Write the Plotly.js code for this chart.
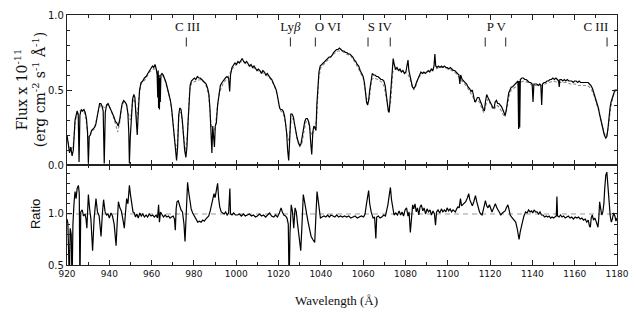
<!DOCTYPE html>
<html>
<head>
<meta charset="utf-8">
<script src="https://cdn.plot.ly/plotly-3.0.1.min.js"></script>
<style>html,body{margin:0;padding:0;background:#fff;}#chart{width:636px;height:316px;}</style>
</head>
<body>
<div id="chart"></div>
<script>
// Observed spectrum (flux in 1e-11 erg cm^-2 s^-1 A^-1)
const obsWave = [920,920.6,921.2,921.8,922.4,923.0,923.4,923.8,924.3,924.8,925.3,925.7,926.1,926.7,927.3,928.0,928.6,929.2,929.7,930.1,930.5,931.0,931.6,932.3,933.0,933.6,934.2,934.8,935.4,936.0,936.6,937.1,937.6,938.1,938.7,939.4,940.1,940.8,941.5,942.2,942.9,943.6,944.2,944.9,945.5,946.1,946.8,947.5,948.2,948.8,949.2,949.5,949.9,950.4,951.0,951.6,952.1,952.6,953.2,953.7,954.3,955.0,955.8,956.6,957.4,958.2,959.0,959.7,960.4,961.0,961.6,962.2,962.6,962.9,963.1,963.3,963.5,963.7,963.9,964.1,964.4,964.9,965.5,966.1,966.8,967.5,968.2,968.9,969.5,970.1,970.7,971.3,971.8,972.3,972.8,973.3,973.9,974.5,975.0,975.6,976.2,976.7,977.2,977.7,978.2,978.8,979.5,980.2,980.9,981.6,982.3,983.0,983.7,984.4,985.1,985.8,986.5,987.1,987.6,988.1,988.5,988.9,989.3,989.7,990.1,990.6,991.2,991.8,992.5,993.3,994.1,994.9,995.6,996.4,996.9,997.3,998.0,998.7,999.4,1000.1,1000.8,1001.5,1002.2,1002.8,1003.5,1004.2,1004.9,1005.6,1006.3,1007.0,1007.7,1008.4,1009.1,1009.8,1010.5,1011.2,1011.9,1012.6,1013.3,1014.0,1014.7,1015.4,1016.1,1016.8,1017.5,1018.2,1018.9,1019.5,1020.0,1020.5,1021.0,1021.6,1022.2,1022.8,1023.3,1023.8,1024.3,1024.8,1025.3,1025.8,1026.4,1027.0,1027.6,1028.2,1028.8,1029.4,1030.0,1030.6,1031.2,1031.8,1032.4,1033.0,1033.6,1034.2,1034.7,1035.2,1035.7,1036.2,1036.7,1037.2,1037.7,1038.1,1038.6,1039.1,1039.7,1040.4,1041.1,1041.8,1042.5,1043.2,1043.9,1044.6,1045.3,1046.0,1046.7,1047.4,1048.1,1048.8,1049.5,1050.2,1050.9,1051.6,1052.3,1053.0,1053.7,1054.4,1055.1,1055.8,1056.5,1057.2,1057.9,1058.6,1059.3,1060.0,1060.6,1061.1,1061.6,1062.1,1062.6,1063.1,1063.7,1064.3,1064.9,1065.6,1066.3,1067.0,1067.7,1068.4,1069.1,1069.8,1070.4,1070.9,1071.4,1071.9,1072.3,1072.8,1073.3,1073.8,1074.2,1074.7,1075.3,1076.0,1076.7,1077.4,1078.1,1078.8,1079.5,1080.2,1080.8,1081.2,1081.6,1082.1,1082.7,1083.3,1083.9,1084.5,1085.2,1085.9,1086.6,1087.3,1088.0,1088.7,1089.4,1090.1,1090.8,1091.5,1092.2,1092.9,1093.5,1093.9,1094.3,1094.9,1095.6,1096.3,1097.0,1097.7,1098.4,1099.1,1099.8,1100.5,1101.2,1101.9,1102.6,1103.3,1104.0,1104.7,1105.3,1105.7,1106.1,1106.8,1107.5,1108.2,1108.9,1109.6,1110.3,1111.0,1111.6,1112.2,1112.8,1113.4,1114.0,1114.7,1115.4,1116.1,1116.8,1117.3,1117.8,1118.4,1119.0,1119.6,1120.2,1120.8,1121.4,1121.9,1122.4,1123.0,1123.6,1124.2,1124.8,1125.4,1126.0,1126.6,1127.1,1127.6,1128.2,1128.8,1129.4,1130.0,1130.6,1131.3,1132.0,1132.7,1133.2,1133.5,1133.8,1134.0,1134.3,1135.0,1135.7,1136.4,1137.1,1137.8,1138.5,1139.2,1139.9,1140.3,1140.7,1141.4,1142.1,1142.8,1143.5,1144.0,1144.4,1144.8,1145.5,1146.2,1146.9,1147.6,1148.3,1149.0,1149.7,1150.4,1151.1,1151.8,1152.4,1152.7,1153.0,1153.7,1154.4,1155.1,1155.8,1156.5,1157.2,1157.9,1158.6,1159.3,1160.0,1160.7,1161.4,1162.1,1162.8,1163.5,1164.2,1164.9,1165.6,1166.3,1167.0,1167.7,1168.4,1169.1,1169.8,1170.5,1171.2,1171.9,1172.6,1173.3,1174.0,1174.7,1175.2,1175.7,1176.2,1176.7,1177.2,1177.8,1178.4,1179.0,1179.6,1180.0];
const obsFlux = [0.20,0.14,0.08,0.12,0.06,0.10,0.22,0.30,0.33,0.36,0.34,0.02,0.33,0.37,0.36,0.37,0.35,0.31,0.22,0.01,0.19,0.20,0.23,0.24,0.25,0.27,0.32,0.38,0.41,0.41,0.39,0.36,0.01,0.35,0.40,0.41,0.39,0.37,0.35,0.32,0.29,0.28,0.26,0.30,0.36,0.41,0.43,0.42,0.40,0.34,0.22,0.01,0.18,0.35,0.44,0.47,0.45,0.33,0.20,0.35,0.50,0.55,0.56,0.58,0.59,0.61,0.63,0.64,0.66,0.65,0.67,0.64,0.60,0.45,0.63,0.38,0.60,0.37,0.58,0.42,0.60,0.61,0.60,0.58,0.55,0.51,0.47,0.43,0.37,0.29,0.20,0.10,0.03,0.12,0.33,0.38,0.37,0.30,0.20,0.10,0.05,0.12,0.28,0.42,0.53,0.56,0.57,0.58,0.57,0.59,0.58,0.58,0.57,0.56,0.55,0.54,0.51,0.47,0.37,0.20,0.08,0.26,0.20,0.12,0.26,0.28,0.40,0.48,0.53,0.55,0.57,0.58,0.59,0.58,0.49,0.60,0.65,0.67,0.68,0.67,0.69,0.68,0.70,0.71,0.69,0.68,0.69,0.67,0.66,0.67,0.65,0.66,0.64,0.63,0.64,0.63,0.61,0.63,0.62,0.60,0.61,0.59,0.58,0.57,0.55,0.53,0.50,0.46,0.42,0.38,0.37,0.37,0.36,0.33,0.28,0.22,0.10,0.03,0.18,0.34,0.34,0.32,0.27,0.22,0.18,0.15,0.13,0.14,0.19,0.25,0.29,0.31,0.31,0.29,0.26,0.15,0.07,0.22,0.26,0.25,0.23,0.40,0.53,0.62,0.66,0.67,0.68,0.69,0.70,0.71,0.72,0.72,0.73,0.75,0.76,0.77,0.77,0.78,0.77,0.76,0.76,0.75,0.75,0.74,0.74,0.73,0.72,0.70,0.69,0.67,0.66,0.63,0.61,0.59,0.55,0.47,0.42,0.40,0.43,0.50,0.57,0.61,0.60,0.60,0.59,0.59,0.58,0.57,0.57,0.56,0.53,0.46,0.40,0.36,0.35,0.44,0.55,0.68,0.71,0.67,0.64,0.65,0.63,0.64,0.62,0.63,0.61,0.62,0.66,0.70,0.63,0.60,0.55,0.52,0.51,0.52,0.55,0.57,0.60,0.62,0.61,0.62,0.61,0.62,0.63,0.62,0.64,0.63,0.66,0.74,0.66,0.65,0.66,0.65,0.66,0.65,0.66,0.65,0.65,0.64,0.65,0.64,0.63,0.63,0.62,0.61,0.60,0.54,0.60,0.57,0.56,0.55,0.54,0.52,0.51,0.49,0.50,0.46,0.42,0.43,0.45,0.45,0.43,0.40,0.37,0.36,0.42,0.47,0.45,0.43,0.42,0.40,0.38,0.38,0.42,0.43,0.41,0.41,0.40,0.39,0.37,0.34,0.33,0.36,0.42,0.48,0.50,0.52,0.52,0.53,0.54,0.55,0.56,0.24,0.56,0.25,0.57,0.58,0.58,0.57,0.57,0.56,0.55,0.55,0.54,0.42,0.54,0.54,0.54,0.53,0.54,0.53,0.40,0.54,0.55,0.55,0.56,0.56,0.57,0.57,0.58,0.57,0.58,0.57,0.56,0.52,0.57,0.57,0.56,0.57,0.56,0.57,0.56,0.56,0.56,0.55,0.56,0.56,0.55,0.56,0.55,0.55,0.55,0.55,0.55,0.55,0.54,0.53,0.51,0.48,0.45,0.42,0.38,0.33,0.28,0.23,0.20,0.18,0.19,0.24,0.32,0.38,0.42,0.45,0.48,0.50,0.50,0.50];

// Model spectrum
const modelWave = [920,921,922,923,924,925,926,927,928,929,930,931,932,933,934,935,936,937,938,939,940,941,942,943,944,945,946,947,948,949,950,951,952,953,954,955,957,959,961,962,963,964,965,966,968,969,970,971,972,973,974,975,976,977,978,979,981,983,985,986,987,988,989,990,991,992,994,996,998,1000,1002,1004,1006,1008,1010,1012,1014,1016,1018,1019,1020,1021,1022,1023,1024,1025,1026,1027,1028,1029,1030,1031,1032,1033,1034,1035,1036,1037,1038,1039,1040,1042,1044,1046,1048,1050,1052,1054,1056,1058,1060,1061,1062,1063,1064,1065,1067,1069,1070,1071,1072,1073,1074,1075,1077,1079,1081,1082,1083,1084,1085,1086,1088,1090,1092,1094,1096,1098,1100,1102,1104,1106,1108,1110,1112,1113,1114,1115,1116,1117,1118,1119,1120,1121,1122,1123,1124,1125,1126,1127,1128,1129,1130,1132,1134,1136,1138,1140,1142,1144,1146,1148,1150,1152,1154,1156,1158,1160,1162,1164,1166,1167,1168,1169,1170,1171,1172,1173,1174,1175,1176,1177,1178,1179,1180];
const modelFlux = [0.19,0.12,0.10,0.14,0.30,0.35,0.36,0.36,0.36,0.30,0.18,0.20,0.23,0.24,0.30,0.37,0.40,0.39,0.38,0.40,0.39,0.36,0.32,0.27,0.22,0.29,0.40,0.42,0.41,0.34,0.30,0.42,0.44,0.30,0.45,0.54,0.57,0.62,0.64,0.64,0.60,0.59,0.60,0.58,0.48,0.42,0.30,0.15,0.10,0.35,0.35,0.22,0.08,0.22,0.50,0.55,0.56,0.57,0.55,0.52,0.46,0.28,0.22,0.24,0.38,0.48,0.55,0.58,0.64,0.67,0.69,0.68,0.66,0.65,0.63,0.62,0.60,0.58,0.53,0.49,0.42,0.36,0.35,0.30,0.20,0.16,0.30,0.31,0.24,0.16,0.12,0.14,0.22,0.29,0.29,0.22,0.20,0.24,0.30,0.58,0.65,0.68,0.71,0.74,0.76,0.76,0.74,0.73,0.69,0.64,0.58,0.50,0.41,0.45,0.57,0.58,0.57,0.55,0.52,0.44,0.36,0.42,0.62,0.64,0.63,0.62,0.61,0.58,0.53,0.50,0.53,0.58,0.61,0.62,0.63,0.64,0.65,0.65,0.64,0.63,0.61,0.57,0.54,0.50,0.45,0.42,0.43,0.42,0.38,0.35,0.40,0.44,0.41,0.38,0.37,0.40,0.39,0.37,0.34,0.32,0.38,0.46,0.50,0.52,0.55,0.56,0.55,0.53,0.53,0.53,0.54,0.55,0.56,0.55,0.55,0.55,0.54,0.54,0.53,0.53,0.53,0.52,0.50,0.47,0.43,0.38,0.32,0.26,0.21,0.19,0.26,0.38,0.45,0.49,0.50];

// Ratio observed / model
const ratioWave = [920.0,920.4,920.8,921.1,921.5,922.0,922.4,922.8,923.3,923.8,924.3,924.8,925.4,925.8,926.1,926.5,927.2,927.8,928.5,929.0,929.4,930.1,930.7,931.3,932.1,932.8,933.7,934.4,935.2,936.1,936.7,937.3,938.0,938.7,939.4,940.0,940.8,941.5,942.3,943.2,943.7,944.3,945.0,945.7,946.4,947.1,947.6,948.2,948.8,949.5,950.0,950.6,951.2,951.8,952.4,953.0,953.7,954.4,955.1,955.8,956.6,957.4,958.1,958.9,959.7,960.5,961.3,962.1,962.8,963.3,963.7,964.2,964.9,965.6,966.4,967.2,968.0,968.7,969.4,970.2,970.8,971.2,971.6,972.0,972.6,973.2,973.9,974.6,975.3,975.8,976.3,977.0,977.5,978.0,978.7,979.4,980.2,981.0,981.8,982.6,983.4,984.2,984.9,985.6,986.3,987.0,987.7,988.3,988.9,989.5,990.0,990.5,991.2,991.7,992.2,992.9,993.6,994.3,995.0,995.7,996.4,997.0,997.3,998.0,998.8,999.6,1000.6,1001.5,1002.4,1003.4,1004.3,1005.3,1006.2,1007.2,1008.1,1009.1,1010.0,1011.0,1012.0,1012.9,1013.9,1014.8,1015.8,1016.7,1017.7,1018.6,1019.5,1020.4,1021.2,1021.8,1022.5,1023.3,1024.0,1024.6,1025.0,1025.4,1026.0,1026.6,1027.2,1027.8,1028.4,1029.0,1029.6,1030.5,1031.1,1031.7,1032.3,1033.0,1033.8,1034.6,1035.4,1036.2,1037.1,1037.6,1038.2,1038.7,1039.2,1039.8,1040.6,1041.5,1042.4,1043.2,1044.0,1044.8,1045.7,1046.6,1047.5,1048.4,1049.3,1050.3,1051.2,1052.2,1053.2,1054.2,1055.2,1056.2,1057.2,1058.2,1059.2,1060.2,1060.9,1061.5,1062.2,1062.6,1063.1,1063.8,1064.7,1065.4,1066.0,1066.4,1067.2,1068.0,1068.8,1069.7,1070.5,1071.2,1071.7,1072.3,1072.9,1073.4,1073.9,1074.6,1075.4,1076.2,1077.0,1077.7,1078.4,1079.1,1079.8,1080.5,1081.2,1081.7,1082.3,1082.8,1083.4,1083.9,1084.5,1085.1,1085.7,1086.3,1086.9,1087.5,1088.2,1088.8,1089.5,1090.2,1090.9,1091.6,1092.3,1093.0,1093.7,1094.2,1094.7,1095.4,1096.2,1097.0,1097.7,1098.4,1099.1,1099.7,1100.4,1101.1,1101.8,1102.5,1103.2,1103.6,1104.2,1104.8,1105.4,1106.0,1106.5,1107.1,1107.8,1108.5,1109.3,1109.9,1110.4,1111.0,1111.6,1112.3,1113.1,1113.7,1114.3,1115.0,1115.6,1116.2,1116.8,1117.3,1117.8,1118.4,1119.0,1119.7,1120.3,1120.9,1121.5,1122.1,1122.5,1123.2,1123.8,1124.5,1125.1,1125.8,1126.4,1127.1,1127.7,1128.4,1128.9,1129.5,1130.2,1131.0,1131.6,1132.1,1132.8,1133.3,1133.7,1134.2,1134.7,1135.3,1136.0,1136.8,1137.5,1138.2,1138.9,1139.6,1140.2,1140.8,1141.5,1142.2,1142.9,1143.6,1144.3,1145.0,1145.8,1146.5,1147.2,1147.9,1148.6,1149.3,1150.0,1150.7,1151.3,1151.6,1151.9,1152.6,1153.3,1154.0,1154.8,1155.5,1156.3,1157.0,1157.8,1158.6,1159.4,1160.2,1161.0,1161.8,1162.6,1163.4,1164.2,1165.0,1165.7,1166.4,1167.0,1167.4,1167.8,1168.3,1168.9,1169.5,1170.1,1170.6,1171.0,1171.4,1171.8,1172.3,1172.8,1173.3,1173.8,1174.2,1174.7,1175.2,1175.6,1176.0,1176.3,1176.8,1177.3,1177.8,1178.4,1179.0,1179.5,1180.0];
const ratioVal = [0.95,0.91,0.60,0.30,0.86,0.80,0.30,0.90,1.10,1.22,1.15,1.25,1.28,1.20,0.30,1.02,1.04,0.98,1.00,0.95,0.86,1.19,1.05,0.95,0.64,0.95,1.15,1.02,0.98,0.78,1.00,1.14,1.02,0.99,1.00,0.96,1.01,0.98,0.90,0.69,0.90,1.12,1.06,1.03,0.95,0.86,1.00,1.15,1.10,1.28,1.19,1.08,1.02,1.01,0.97,1.00,0.96,1.01,0.98,1.00,0.97,0.99,0.97,1.00,0.98,0.99,0.97,0.99,0.96,1.09,0.92,1.02,0.99,0.97,0.99,0.97,0.98,0.96,0.97,0.98,0.95,0.84,1.05,1.12,1.13,1.08,1.04,1.02,0.90,0.73,0.95,1.31,1.22,1.12,1.05,1.01,0.98,0.94,0.92,0.93,0.92,0.94,0.93,0.95,0.97,0.98,1.03,1.10,1.13,1.20,1.16,1.24,1.30,1.15,1.07,1.02,1.01,1.00,1.02,0.99,1.01,1.25,1.00,0.99,1.01,0.99,0.99,1.00,0.98,1.00,0.98,0.99,1.00,0.98,0.99,0.97,0.98,1.00,0.98,0.99,0.97,0.99,1.01,0.98,0.97,0.99,0.97,1.01,1.06,1.02,0.99,0.98,0.96,0.90,0.30,0.80,1.09,1.02,0.86,1.06,1.02,0.90,0.79,0.64,0.90,1.19,1.12,1.02,0.94,0.86,0.78,0.75,0.72,0.95,1.22,1.14,1.02,0.96,0.97,0.98,0.97,0.99,0.97,0.99,0.98,0.97,0.99,0.97,0.98,0.97,0.98,0.97,0.98,0.96,0.97,0.98,0.96,0.97,0.98,0.97,1.00,1.09,1.20,1.23,1.10,1.02,0.96,0.97,0.76,0.97,0.98,0.96,0.97,0.99,0.98,1.03,1.09,1.18,1.26,1.14,1.06,0.99,1.01,0.99,1.03,0.99,1.02,0.98,1.04,1.06,0.98,1.02,0.82,1.00,1.09,1.05,1.10,1.02,1.06,0.99,1.07,1.09,1.03,1.06,1.00,1.05,1.02,1.04,0.99,1.03,1.00,0.89,1.02,1.04,1.01,1.05,1.02,1.04,1.02,1.06,1.03,1.05,1.02,1.04,1.03,1.02,1.05,1.07,1.06,1.15,1.08,1.09,1.10,1.12,1.16,1.20,1.14,1.10,1.08,1.12,1.18,1.12,1.06,1.02,1.00,0.99,1.04,1.10,1.13,1.08,1.06,1.09,1.04,1.02,1.05,1.08,1.10,1.06,1.04,1.02,0.99,1.01,1.02,1.03,1.06,1.09,1.05,0.99,0.97,0.95,0.93,0.92,0.86,0.78,0.75,0.82,0.88,0.92,0.98,1.02,1.01,1.04,1.02,1.03,1.01,1.04,1.02,1.02,1.00,1.02,0.99,0.99,0.97,0.98,0.97,0.98,0.96,0.97,0.96,0.97,0.98,1.17,0.98,0.97,0.99,0.97,0.98,0.96,0.97,0.98,0.96,0.97,0.95,0.97,0.96,0.97,0.95,0.96,0.94,0.95,0.92,0.94,0.88,0.87,0.96,0.99,0.94,0.96,0.93,0.90,0.87,0.96,1.12,1.05,0.99,1.02,1.10,1.25,1.38,1.41,1.28,1.15,1.06,0.98,0.92,0.95,1.01,0.98,0.93,0.96];

// Line identifications
const lineMarkWave = [976.4, 1025.6, 1037.4, 1062.3, 1072.8, 1117.7, 1127.4, 1175.3];
const lineLabels = ["C III", "Ly<i>β</i>", "O VI", "S IV", "P V", "C III"];
const lineLabelWave = [977.0, 1025.6, 1043.3, 1067.9, 1123.0, 1170.0];

const markTop = 0.85, markBot = 0.79, labelY = 0.915;
const mx = [], my = [];
lineMarkWave.forEach(w => { mx.push(w, w, null); my.push(markBot, markTop, null); });

const traces = [
  {x: modelWave, y: modelFlux, xaxis: 'x2', yaxis: 'y', mode: 'lines',
   line: {color: '#8a8a8a', width: 1.1, dash: '3px,2px'}, hoverinfo: 'skip'},
  {x: obsWave, y: obsFlux, xaxis: 'x2', yaxis: 'y', mode: 'lines',
   line: {color: '#000', width: 1.2}, hoverinfo: 'skip'},
  {x: mx, y: my, xaxis: 'x2', yaxis: 'y', mode: 'lines',
   line: {color: '#222', width: 1}, hoverinfo: 'skip'},
  {x: lineLabelWave, y: lineLabelWave.map(() => labelY), text: lineLabels, xaxis: 'x2', yaxis: 'y',
   mode: 'text', textposition: 'middle center',
   textfont: {family: 'Liberation Serif', size: 13, color: '#111'}, hoverinfo: 'skip'},
  {x: ratioWave, y: ratioVal, xaxis: 'x', yaxis: 'y2', mode: 'lines',
   line: {color: '#000', width: 1.2}, hoverinfo: 'skip'}
];

const tickFontX = {family: 'DejaVu Sans', size: 9, color: '#111'};
const tickFontY = {family: 'DejaVu Sans', size: 10, color: '#111'};
const common = {showline: true, linecolor: '#222', linewidth: 1.2, mirror: 'ticks', ticks: 'inside',
  tickcolor: '#222', tickwidth: 1, showgrid: false, zeroline: false};

const layout = {
  width: 636, height: 316,
  margin: {l: 67, r: 19, t: 15, b: 51},
  paper_bgcolor: '#fff', plot_bgcolor: '#fff',
  showlegend: false,
  xaxis: Object.assign({}, common, {domain: [0, 1], anchor: 'y2', range: [920, 1180],
    tickmode: 'linear', tick0: 920, dtick: 20, ticklen: 5, tickfont: tickFontX,
    minor: {dtick: 10, tick0: 920, ticks: 'inside', ticklen: 3, tickcolor: '#222', showgrid: false}}),
  xaxis2: Object.assign({}, common, {domain: [0, 1], anchor: 'y', matches: 'x', range: [920, 1180],
    tickmode: 'linear', tick0: 920, dtick: 20, ticklen: 5, showticklabels: false,
    minor: {dtick: 10, tick0: 920, ticks: 'inside', ticklen: 3, tickcolor: '#222', showgrid: false}}),
  yaxis: Object.assign({}, common, {domain: [0.4, 1], anchor: 'x2', range: [0, 1],
    tickmode: 'linear', tick0: 0, dtick: 0.5, tickformat: '.1f', ticklen: 5, tickfont: tickFontY,
    minor: {dtick: 0.1, tick0: 0, ticks: 'inside', ticklen: 3, tickcolor: '#222', showgrid: false}}),
  yaxis2: Object.assign({}, common, {domain: [0, 0.4], anchor: 'x', range: [0.5, 1.48],
    tickmode: 'linear', tick0: 0.5, dtick: 0.5, tickformat: '.1f', ticklen: 5, tickfont: tickFontY,
    minor: {dtick: 0.1, tick0: 0.5, ticks: 'inside', ticklen: 3, tickcolor: '#222', showgrid: false}}),
  shapes: [
    {type: 'line', xref: 'paper', yref: 'y2', x0: 0, x1: 1, y0: 1, y1: 1,
     line: {color: '#999', width: 1, dash: '5px,4px'}, layer: 'below'}
  ],
  annotations: [
    {xref: 'paper', yref: 'paper', x: -0.067, y: 0.70, xanchor: 'center', yanchor: 'middle',
     textangle: -90, showarrow: false,
     text: 'Flux x 10<sup>-11</sup><br>(erg cm<sup>-2</sup> s<sup>-1</sup> Å<sup>-1</sup>)',
     font: {family: 'DejaVu Serif', size: 14, color: '#111'}},
    {xref: 'paper', yref: 'paper', x: -0.058, y: 0.204, xanchor: 'center', yanchor: 'middle',
     textangle: -90, showarrow: false, text: 'Ratio',
     font: {family: 'Liberation Sans', size: 13, color: '#111'}},
    {xref: 'paper', yref: 'paper', x: 0.49, y: -0.14, xanchor: 'center', yanchor: 'middle',
     showarrow: false, text: 'Wavelength (Å)',
     font: {family: 'Liberation Serif', size: 13, color: '#111'}}
  ]
};

Plotly.newPlot('chart', traces, layout, {staticPlot: true, displayModeBar: false});
</script>
</body>
</html>
